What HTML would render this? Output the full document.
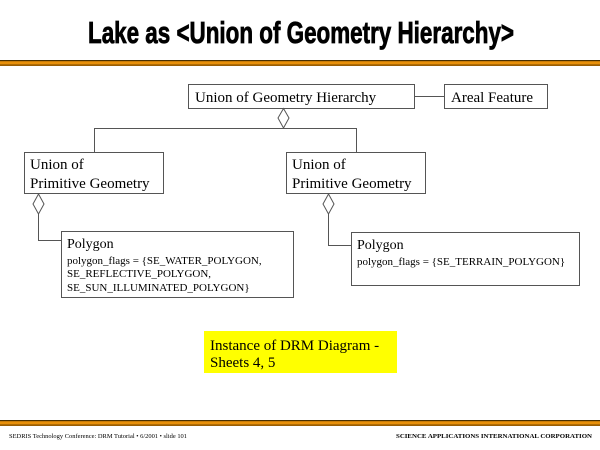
<!DOCTYPE html>
<html><head><meta charset="utf-8"><style>
html,body{margin:0;padding:0;background:#fff;}
svg{display:block;}
</style></head><body>
<svg width="600" height="450" xmlns="http://www.w3.org/2000/svg">
<rect width="600" height="450" fill="#fff"/>
<text x="301" y="43" text-anchor="middle" font-family="'Liberation Sans Narrow','Liberation Sans',sans-serif" font-weight="bold" font-size="31" stroke="#000" stroke-width="0.8" textLength="426" lengthAdjust="spacingAndGlyphs">Lake as &lt;Union of Geometry Hierarchy&gt;</text>
<rect x="0" y="60" width="600" height="6" fill="#e8900a"/>
<rect x="0" y="60" width="600" height="1.2" fill="#4a3000"/>
<rect x="0" y="64.5" width="600" height="1.2" fill="#7a4a00"/>
<rect x="0" y="420" width="600" height="6" fill="#e8900a"/>
<rect x="0" y="420" width="600" height="1.2" fill="#4a3000"/>
<rect x="0" y="424.5" width="600" height="1.2" fill="#7a4a00"/>
<text x="9" y="438" font-family="'Liberation Serif',serif" font-size="6.5" textLength="178" lengthAdjust="spacingAndGlyphs">SEDRIS Technology Conference: DRM Tutorial • 6/2001 • slide 101</text>
<text x="592" y="438" text-anchor="end" font-family="'Liberation Serif',serif" font-weight="bold" font-size="6.5" textLength="196" lengthAdjust="spacingAndGlyphs">SCIENCE APPLICATIONS INTERNATIONAL CORPORATION</text>
<g fill="none" stroke="#555" stroke-width="1">
<rect x="188.5" y="84.5" width="226" height="24"/>
<rect x="444.5" y="84.5" width="103" height="24"/>
<line x1="414" y1="96.5" x2="444" y2="96.5"/>
<polygon points="283.5,108.5 289,118 283.5,128 278,118"/>
<polyline points="94.5,152 94.5,128.5 356.5,128.5 356.5,152"/>
<rect x="24.5" y="152.5" width="139" height="41"/>
<rect x="286.5" y="152.5" width="139" height="41"/>
<polygon points="38.5,194 44,204 38.5,214 33,204"/>
<polyline points="38.5,214 38.5,240.5 61,240.5"/>
<rect x="61.5" y="231.5" width="232" height="66"/>
<polygon points="328.5,194 334,204 328.5,214 323,204"/>
<polyline points="328.5,214 328.5,245.5 351,245.5"/>
<rect x="351.5" y="232.5" width="228" height="53"/>
</g>
<rect x="204" y="331" width="193" height="42" fill="#ffff00"/>
<g font-family="'Liberation Serif',serif" fill="#000">
<text x="195" y="102" font-size="15">Union of Geometry Hierarchy</text>
<text x="451" y="102" font-size="15">Areal Feature</text>
<text x="30" y="169" font-size="15">Union of</text>
<text x="30" y="188" font-size="15">Primitive Geometry</text>
<text x="292" y="169" font-size="15">Union of</text>
<text x="292" y="188" font-size="15">Primitive Geometry</text>
<text x="67" y="248" font-size="14">Polygon</text>
<text x="67" y="264" font-size="11">polygon_flags = {SE_WATER_POLYGON,</text>
<text x="67" y="277" font-size="11">SE_REFLECTIVE_POLYGON,</text>
<text x="67" y="291" font-size="11">SE_SUN_ILLUMINATED_POLYGON}</text>
<text x="357" y="249" font-size="14">Polygon</text>
<text x="357" y="265" font-size="11">polygon_flags = {SE_TERRAIN_POLYGON}</text>
<text x="210" y="350" font-size="15">Instance of DRM Diagram -</text>
<text x="210" y="367" font-size="15">Sheets 4, 5</text>
</g>
</svg>
</body></html>
